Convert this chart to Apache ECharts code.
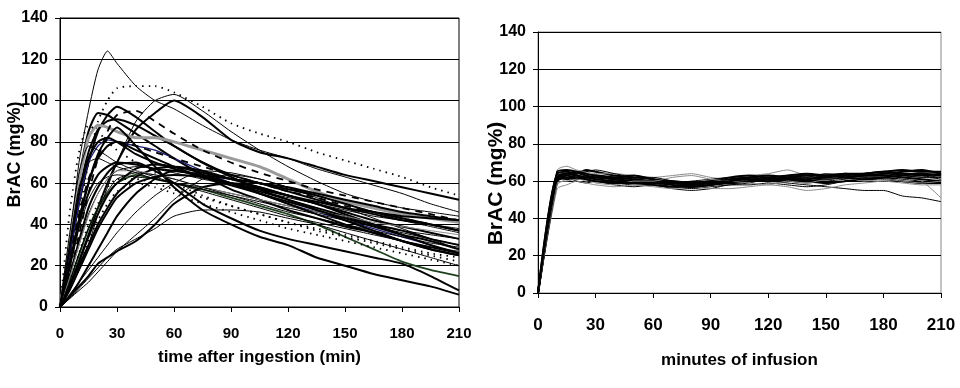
<!DOCTYPE html>
<html><head><meta charset="utf-8">
<script src="https://cdn.jsdelivr.net/npm/echarts@6/dist/echarts.min.js"></script>
<style>html,body{margin:0;padding:0;background:#fff}#c{width:960px;height:388px}</style>
</head><body><div id="c"></div>
<script>
// ---------- Left panel: oral ingestion ----------
const X_TICKS = [0, 30, 60, 90, 120, 150, 180, 210];
const Y_TICKS = [0, 20, 40, 60, 80, 100, 120, 140];
const T_LEFT = [0, 5, 10, 15, 20, 25, 30, 40, 50, 60, 75, 90, 105, 120, 135, 150, 165, 180, 195, 210];
const L01 = [0, 30, 70, 95, 115, 124, 118, 107, 100, 96, 88, 81, 76, 72, 67, 63, 59, 55, 50, 46];
const L02 = [0, 20, 45, 70, 90, 100, 106, 107, 107, 104, 97, 89, 84, 80, 75, 71, 67, 63, 58, 54];
const L03 = [0, 10, 22, 35, 48, 60, 70, 86, 94, 100, 92, 81, 75, 72, 68, 64, 61, 58, 55, 52];
const L04 = [0, 8, 18, 30, 45, 58, 70, 90, 100, 103, 95, 85, 76, 68, 61, 55, 51, 48, 46, 44];
const L05 = [0, 25, 50, 70, 85, 93, 97, 92, 85, 78, 70, 63, 57, 52, 48, 44, 40, 37, 33, 30];
const L06 = [0, 30, 62, 85, 94, 93, 90, 84, 78, 72, 64, 57, 52, 47, 43, 39, 36, 32, 29, 26];
const L07 = [0, 25, 55, 75, 86, 90, 91, 88, 83, 78, 70, 64, 60, 56, 52, 48, 45, 42, 40, 37];
const L08 = [0, 30, 60, 82, 88, 87, 85, 82, 82, 80, 76, 72, 68, 62, 56, 51, 48, 45, 43, 41];
const L09 = [0, 25, 50, 70, 78, 81, 80, 78, 76, 72, 66, 60, 55, 50, 46, 42, 38, 34, 30, 26];
const L10 = [0, 12, 25, 38, 48, 55, 60, 64, 62, 60, 57, 53, 49, 45, 40, 34, 28, 22, 18, 15];
const L11 = [0, 20, 42, 60, 74, 82, 87, 78, 68, 58, 47, 40, 34, 30, 24, 20, 16, 13, 10, 6];
const L12 = [0, 15, 32, 48, 58, 65, 69, 70, 66, 60, 50, 43, 37, 33, 30, 27, 24, 21, 15, 8];
const L13 = [0, 4, 9, 14, 19, 24, 28, 33, 38, 44, 47, 47, 46, 43, 40, 36, 32, 28, 24, 20];
const L14 = [0, 5, 10, 15, 21, 24, 27, 32, 40, 50, 58, 60, 58, 54, 50, 45, 40, 35, 30, 26];
const L15 = [0, 4, 8, 12, 17, 22, 27, 35, 43, 52, 62, 64, 62, 58, 53, 48, 43, 38, 33, 28];
const L16 = [0, 6, 12, 18, 24, 30, 36, 46, 54, 60, 66, 65, 62, 58, 54, 50, 46, 42, 39, 36];
const L17 = [0, 10, 20, 30, 40, 48, 55, 63, 67, 68, 66, 62, 58, 54, 50, 46, 42, 39, 36, 33];
const L18 = [0, 15, 30, 45, 55, 62, 66, 68, 67, 65, 62, 59, 56, 53, 50, 47, 44, 42, 40, 38];
const L19 = [0, 45, 75, 88, 85, 80, 76, 70, 65, 60, 54, 49, 45, 41, 37, 34, 31, 28, 25, 22];
const L20 = [0, 35, 65, 78, 76, 73, 70, 66, 63, 60, 56, 52, 48, 44, 41, 38, 35, 32, 29, 27];
const L21 = [0, 22, 45, 62, 72, 78, 80, 78, 75, 72, 68, 64, 60, 56, 53, 49, 46, 43, 40, 37];
const L22 = [0, 15, 35, 55, 72, 85, 93, 95, 90, 84, 76, 70, 65, 61, 57, 54, 51, 48, 45, 42];
const L23 = [0, 10, 22, 34, 45, 54, 60, 67, 69, 68, 65, 62, 60, 57, 54, 50, 46, 43, 40, 37];
const L24 = [0, 20, 40, 55, 64, 68, 70, 69, 67, 66, 64, 62, 60, 58, 55, 52, 49, 46, 44, 42];
const L25 = [0, 18, 38, 52, 60, 63, 64, 63, 62, 60, 58, 55, 52, 49, 46, 43, 40, 37, 35, 33];
const L26 = [0, 12, 26, 40, 50, 58, 62, 62, 60, 57, 53, 49, 45, 41, 38, 35, 32, 29, 26, 24];
const L27 = [0, 28, 55, 72, 80, 82, 80, 74, 70, 67, 63, 60, 57, 54, 51, 48, 46, 44, 43, 42];
const L28 = [0, 8, 18, 28, 38, 46, 53, 60, 63, 64, 63, 60, 56, 52, 47, 42, 37, 32, 28, 25];
const L29 = [0, 14, 30, 44, 55, 62, 66, 66, 64, 62, 58, 55, 52, 49, 46, 44, 41, 39, 37, 35];
const L30 = [0, 10, 20, 32, 42, 50, 56, 60, 58, 55, 50, 46, 42, 38, 35, 32, 29, 26, 23, 20];
const L31 = [0, 20, 42, 60, 72, 78, 80, 76, 72, 68, 63, 59, 55, 51, 47, 43, 39, 35, 32, 28];
const L32 = [0, 30, 58, 70, 72, 70, 68, 65, 62, 60, 57, 54, 51, 48, 45, 42, 39, 36, 33, 30];
const L33 = [0, 5, 12, 20, 28, 36, 44, 55, 62, 66, 64, 60, 55, 50, 45, 40, 36, 32, 28, 25];
const L34 = [0, 12, 26, 38, 48, 56, 62, 65, 64, 62, 58, 54, 50, 46, 43, 40, 37, 34, 31, 29];
const LEFT_CURVES = [L01,L02,L03,L04,L05,L06,L07,L08,L09,L10,L11,L12,L13,L14,L15,L16,L17,L18,L19,L20,L21,L22,L23,L24,L25,L26,L27,L28,L29,L30,L31,L32,L33,L34];
const LEFT_KIND = ['thin','dot','thick','thin','thick','thick','thick','gray','blue','green','thick','thick','thin','thick','thin','thin','thick','thin','dot','thin','dash','dash','thick','thick','thin','dot','thick','thick','lgray','dot','thick','thin','thick','thin'];

// ---------- Right panel: infusion clamp ----------
const T_RIGHT = [0, 10, 15, 20, 25, 30, 40, 50, 60, 70, 80, 90, 100, 110, 120, 130, 140, 150, 160, 170, 180, 190, 200, 210];
const R01 = [0, 64, 65, 64, 66, 65, 63, 62, 61, 58, 57, 58, 60, 61, 60, 62, 63, 62, 64, 63, 64, 65, 66, 64];
const R02 = [0, 62, 63, 62, 63, 61, 60, 61, 59, 57, 56, 57, 58, 59, 61, 60, 59, 60, 61, 62, 62, 61, 60, 59];
const R03 = [0, 66, 68, 66, 65, 64, 64, 63, 62, 63, 64, 62, 61, 63, 64, 66, 63, 62, 63, 64, 65, 63, 62, 61];
const R04 = [0, 60, 63, 62, 61, 60, 59, 58, 58, 57, 58, 59, 60, 61, 60, 59, 58, 57, 56, 55, 55, 52, 51, 49];
const R05 = [0, 58, 61, 62, 60, 61, 62, 60, 59, 58, 59, 60, 59, 61, 62, 61, 60, 62, 63, 62, 63, 62, 60, 51];
const R06 = [0, 63, 64, 65, 64, 63, 61, 60, 60, 59, 58, 59, 61, 62, 63, 62, 61, 63, 64, 64, 65, 66, 65, 65];
const R07 = [0, 61, 62, 60, 59, 60, 58, 57, 58, 56, 55, 56, 58, 58, 59, 58, 57, 58, 60, 61, 62, 63, 62, 62];
const R08 = [0, 65, 66, 65, 63, 62, 62, 63, 61, 60, 59, 60, 62, 63, 62, 63, 64, 63, 62, 63, 63, 64, 64, 63];
const R09 = [0, 56, 58, 60, 59, 58, 57, 58, 57, 56, 57, 56, 56, 57, 58, 57, 55, 56, 58, 59, 60, 59, 58, 58];
const R10 = [0, 62, 64, 63, 62, 61, 60, 59, 59, 58, 57, 58, 59, 60, 61, 61, 60, 61, 62, 63, 63, 62, 61, 60];
const R11 = [0, 64, 63, 64, 65, 66, 64, 62, 61, 59, 60, 61, 62, 61, 60, 61, 62, 64, 63, 62, 61, 62, 63, 62];
const R12 = [0, 60, 62, 61, 62, 62, 61, 60, 60, 59, 58, 59, 59, 60, 62, 61, 60, 59, 60, 61, 61, 60, 59, 59];
const R13 = [0, 63, 62, 63, 62, 63, 62, 61, 60, 60, 59, 60, 60, 62, 61, 60, 61, 62, 63, 64, 65, 64, 63, 64];
const R14 = [0, 59, 60, 61, 61, 59, 58, 60, 60, 62, 63, 61, 60, 59, 58, 60, 59, 61, 62, 60, 61, 60, 59, 60];
const R15 = [0, 61, 63, 64, 63, 62, 61, 62, 62, 60, 58, 59, 61, 62, 63, 62, 62, 61, 62, 63, 64, 64, 63, 61];
const R16 = [0, 62, 61, 62, 61, 60, 59, 59, 58, 57, 57, 58, 60, 61, 61, 62, 63, 63, 62, 61, 62, 63, 64, 63];
const RIGHT_CURVES = [R01,R02,R03,R04,R05,R06,R07,R08,R09,R10,R11,R12,R13,R14,R15,R16];
const RIGHT_KIND = ['thick','thin','lgray','thin','lgray','thick','thin','thick','lgray','thick','thin','thick','thick','lgray','thin','thick'];

const STYLES = {
  thin:  {color:'#000', width:1, type:'solid'},
  thick: {color:'#000', width:2, type:'solid'},
  dot:   {color:'#000', width:1.8, type:[1.5,5]},
  dash:  {color:'#000', width:1.8, type:[7,6]},
  gray:  {color:'#9a9a9a', width:3, type:'solid'},
  lgray: {color:'#8a8a8a', width:1, type:'solid'},
  blue:  {color:'#1c1c70', width:1.3, type:'solid'},
  green: {color:'#1f401f', width:1.8, type:'solid'}
};

const FONT = '"Liberation Sans", Arial, sans-serif';

function mkSeries(times, curves, kinds, idx){
  return curves.map((c, k) => ({
    type:'line', xAxisIndex:idx, yAxisIndex:idx, symbol:'none', smooth:0.2,
    silent:true, animation:false,
    lineStyle: STYLES[kinds[k]],
    data: times.map((t, i) => [t, c[i]])
  }));
}
function xAx(idx, name, gap, fs, margin, nfs){
  return {type:'value', gridIndex:idx, min:X_TICKS[0], max:X_TICKS[X_TICKS.length-1], interval:30,
    name:name, nameLocation:'middle', nameGap:gap, nameMoveOverlap:false,
    nameTextStyle:{fontFamily:FONT, fontWeight:'bold', fontSize:nfs, color:'#000'},
    axisLine:{show:true, lineStyle:{color:'#000', width:1}},
    axisTick:{show:true, length:5, lineStyle:{color:'#000'}},
    axisLabel:{fontFamily:FONT, fontWeight:'bold', fontSize:fs, color:'#000', margin:margin},
    splitLine:{show:false}};
}
function yAx(idx, gap, fs, nfs, pad){
  return {type:'value', gridIndex:idx, min:Y_TICKS[0], max:Y_TICKS[Y_TICKS.length-1], interval:20,
    name:'BrAC (mg%)', nameLocation:'middle', nameGap:gap, nameMoveOverlap:false,
    nameTextStyle:{fontFamily:FONT, fontWeight:'bold', fontSize:nfs, color:'#000', padding:pad},
    axisLine:{show:true, lineStyle:{color:'#000', width:1}},
    axisTick:{show:true, length:5, lineStyle:{color:'#000'}},
    axisLabel:{fontFamily:FONT, fontWeight:'bold', fontSize:fs, color:'#000', margin:12},
    splitLine:{show:true, lineStyle:{color:'#000', width:1}}};
}

const chart = echarts.init(document.getElementById('c'), null, {renderer:'canvas'});
chart.setOption({
  animation:false,
  backgroundColor:'#fff',
  grid:[
    {left:60, top:18, width:399, height:289, show:true, borderColor:'#000', borderWidth:1},
    {left:538, top:32, width:403, height:261, show:true, borderColor:'#888', borderWidth:1}
  ],
  xAxis:[xAx(0,'time after ingestion (min)',42,15,19,17), xAx(1,'minutes of infusion',59,17,24,17)],
  yAxis:[yAx(0,36,16,18,[0,0,0,16]), yAx(1,31,16,21,[0,42,0,0])],
  series: mkSeries(T_LEFT, LEFT_CURVES, LEFT_KIND, 0).concat(mkSeries(T_RIGHT, RIGHT_CURVES, RIGHT_KIND, 1))
});
</script></body></html>
